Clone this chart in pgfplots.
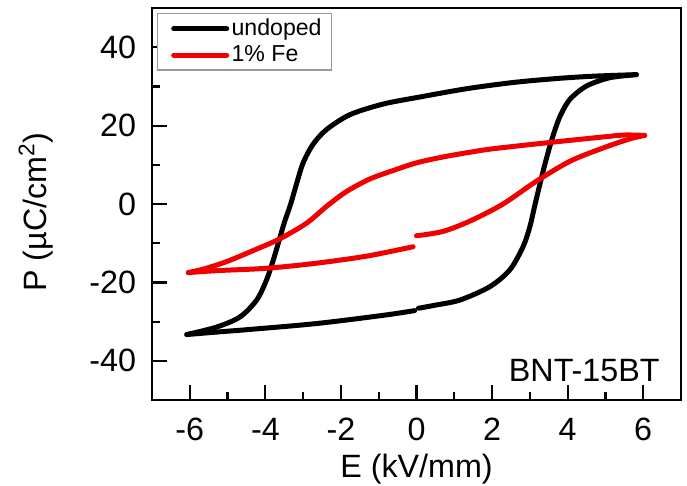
\documentclass[border=0pt]{standalone}
\usepackage{fontspec}
\setmainfont{Liberation Sans}
\usepackage{pgfplots}
\pgfplotsset{compat=1.18}
\definecolor{myred}{RGB}{240,0,0}
\begin{document}
\begin{tikzpicture}
\begin{axis}[
 scale only axis, width=264.5bp, height=196bp,
 xmin=-7, xmax=7, ymin=-50, ymax=50,
 xtick={-6,-4,...,6}, ytick={-40,-20,...,40},
 minor x tick num=1, minor y tick num=1,
 tick align=inside, xtick pos=bottom, ytick pos=left,
 major tick length=7.5bp, minor tick length=4bp,
 every tick/.style={black, line width=1.1bp},
 axis line style={line width=1.3bp},
 tick label style={font=\fontsize{16.2}{19}\selectfont},
 /pgf/number format/assume math mode=true,
 xticklabel style={yshift=-5.5bp},
 yticklabel style={xshift=-4.5bp},
 xlabel={E (kV/mm)}, ylabel={P (µC/cm\textsuperscript{2})},
 label style={font=\fontsize{16.2}{19}\selectfont},
 ylabel shift=11bp,
 ylabel style={xshift=-4bp},
 legend style={at={(rel axis cs:0,1)}, anchor=north west, xshift=2.5bp, yshift=-2.5bp,
   draw=gray!80, line width=0.6bp, font=\fontsize{11.6}{13.5}\selectfont,
   inner xsep=3.8bp, inner ysep=1.5bp, row sep=1bp, nodes={inner sep=1.2bp}},
 legend cell align=left,
 legend image code/.code={\path (0bp,0bp); \draw[#1] (3bp,0bp) -- (29.5bp,0bp);},
 every axis plot/.append style={line width=2.5bp, line cap=round, line join=round},
]
% undoped
\addplot[black, smooth, tension=0.5] coordinates {
(0.05,-26.6) (0.5,-25.8) (1.15,-24.5) (1.94,-21.1) (2.47,-16.8) (2.82,-10.9)
(3.0,-5.8) (3.14,0) (3.28,5.6) (3.43,11.3) (3.6,17.0) (3.8,22.4) (4.06,26.7)
(4.5,30.1) (5.11,32.2) (5.82,33.0)};
\addlegendentry{undoped}
\addplot[black, smooth, tension=0.5, forget plot] coordinates {
(5.82,33.0) (4.67,32.6) (3.7,32.0) (2.56,31.0) (1.32,29.4) (0.09,27.3) (-0.88,25.5)
(-1.76,22.8) (-2.38,19.0) (-2.74,15.2) (-3.0,10.5) (-3.17,5.3) (-3.33,0) (-3.5,-4.8)
(-3.64,-9.4) (-3.79,-14.3) (-3.97,-19.4) (-4.23,-24.5) (-4.67,-28.8) (-5.29,-31.4) (-6.08,-33.3)};
\addplot[black, smooth, tension=0.5, forget plot] coordinates {
(-6.08,-33.3) (-5.2,-32.6) (-4.41,-32.0) (-2.65,-30.5) (-0.88,-28.4) (-0.05,-27.2)};
% 1% Fe
\addplot[myred, smooth, tension=0.5] coordinates {
(0,-8.1) (0.7,-7.0) (1.45,-4.2) (2.29,0.0) (3.17,5.8) (4.06,10.9)
(4.94,14.3) (5.64,16.6) (6.04,17.5)};
\addlegendentry{1\% Fe}
\addplot[myred, smooth, tension=0.5, forget plot] coordinates {
(6.04,17.5) (5.5,17.6) (4.94,17.1) (3.53,15.7) (2.03,14.1) (1.41,13.2) (0.7,12.0) (0,10.5)
(-0.6,8.6) (-1.23,6.4) (-1.85,3.2) (-2.38,-0.6) (-2.91,-4.9) (-3.62,-8.9) (-4.23,-11.5)
(-5.0,-14.6) (-5.6,-16.5) (-6.04,-17.5)};
\addplot[myred, smooth, tension=0.5, forget plot] coordinates {
(-6.04,-17.5) (-5.29,-17.0) (-3.97,-16.4) (-2.65,-15.1) (-1.32,-13.3) (-0.09,-10.9)};
\node[anchor=base east, inner sep=0pt, font=\fontsize{16.2}{19}\selectfont] at ([xshift=-10.5bp,yshift=9.2bp]rel axis cs:1,0) {BNT-15BT};
\coordinate (SW) at (rel axis cs:0,0);
\coordinate (NE) at (rel axis cs:1,1);
\end{axis}
\pgfresetboundingbox
\useasboundingbox ([xshift=-76bp,yshift=-43bp]SW) rectangle ([xshift=3bp,yshift=4bp]NE);
\end{tikzpicture}
\end{document}
